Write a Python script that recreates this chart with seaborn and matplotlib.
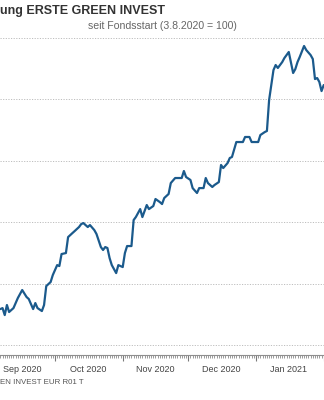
import matplotlib
matplotlib.use("Agg")
import matplotlib.pyplot as plt
import matplotlib.dates as mdates
import pandas as pd
import seaborn as sns

# ---- data ----
dates = [
    "2020-09-06", "2020-09-07", "2020-09-08", "2020-09-09", "2020-09-10", "2020-09-12",
    "2020-09-14", "2020-09-16", "2020-09-18", "2020-09-19", "2020-09-21", "2020-09-22",
    "2020-09-23", "2020-09-25", "2020-09-26", "2020-09-27", "2020-09-29", "2020-09-30",
    "2020-10-02", "2020-10-03", "2020-10-04", "2020-10-06", "2020-10-07", "2020-10-09",
    "2020-10-10", "2020-10-12", "2020-10-13", "2020-10-14", "2020-10-16", "2020-10-17",
    "2020-10-19", "2020-10-20", "2020-10-22", "2020-10-23", "2020-10-24", "2020-10-25",
    "2020-10-26", "2020-10-27", "2020-10-29", "2020-10-30",
    "2020-11-01", "2020-11-02", "2020-11-03", "2020-11-05", "2020-11-06", "2020-11-07",
    "2020-11-09", "2020-11-10", "2020-11-12", "2020-11-13", "2020-11-15", "2020-11-16",
    "2020-11-18", "2020-11-19", "2020-11-20", "2020-11-22", "2020-11-23", "2020-11-25",
    "2020-11-26", "2020-11-28", "2020-11-29", "2020-11-30",
    "2020-12-02", "2020-12-03", "2020-12-05", "2020-12-06", "2020-12-08", "2020-12-09",
    "2020-12-10", "2020-12-12", "2020-12-13", "2020-12-15", "2020-12-16", "2020-12-17",
    "2020-12-19", "2020-12-20", "2020-12-21", "2020-12-23", "2020-12-25", "2020-12-26",
    "2020-12-27", "2020-12-29", "2020-12-30",
    "2021-01-01", "2021-01-02", "2021-01-03", "2021-01-05", "2021-01-06", "2021-01-07",
    "2021-01-09", "2021-01-10", "2021-01-11", "2021-01-13", "2021-01-14", "2021-01-16",
    "2021-01-18", "2021-01-19", "2021-01-20", "2021-01-21", "2021-01-23", "2021-01-24",
    "2021-01-26", "2021-01-27", "2021-01-28", "2021-01-29", "2021-01-30", "2021-01-31",
    "2021-02-01",
]
values = [
    97.93, 98.01, 97.44, 98.26, 97.69, 98.01,
    98.83, 99.48, 98.91, 98.75, 97.93, 98.42,
    98.01, 97.77, 98.26, 99.80, 100.13, 100.70,
    101.51, 101.43, 102.41, 102.49, 103.79, 104.12,
    104.28, 104.61, 104.85, 104.93, 104.61, 104.77,
    104.36, 104.04, 102.98, 102.74, 102.98, 102.90,
    102.08, 101.51, 100.86, 101.51,
    101.35, 102.49, 103.06, 103.06, 105.18, 105.42,
    106.07, 105.42, 106.40, 106.07, 106.32, 106.89,
    106.64, 106.48, 106.97, 107.30, 108.19, 108.60,
    108.60, 108.60, 109.17, 108.68,
    108.44, 107.78, 107.38, 107.78, 107.78, 108.60,
    108.19, 107.87, 108.03, 108.27, 109.66, 109.41,
    109.82, 110.23, 110.31, 111.53, 111.53, 111.53,
    111.94, 111.94, 111.53,
    111.53, 111.53, 112.10, 112.34, 112.43, 114.95,
    117.39, 117.80, 117.56, 118.04, 118.37, 118.86,
    117.15, 117.47, 118.04, 118.45, 119.35, 119.02,
    118.61, 118.29, 116.66, 116.74, 116.42, 115.68,
    116.17,
]
grid_values = [95, 100, 105, 110, 115, 120]
month_starts = ["2020-09-01", "2020-10-01", "2020-11-01", "2020-12-01", "2021-01-01", "2021-02-01"]
month_mids = ["2020-09-16", "2020-10-16", "2020-11-16", "2020-12-16", "2021-01-16"]
month_labels = ["Sep 2020", "Oct 2020", "Nov 2020", "Dec 2020", "Jan 2021"]
title_text = "ung ERSTE GREEN INVEST"
subtitle_text = "seit Fondsstart (3.8.2020 = 100)"
footer_text = "EN INVEST EUR R01 T"

df = pd.DataFrame({"date": pd.to_datetime(dates), "value": values})

sns.set_style("white")
plt.rcParams["font.family"] = ["Liberation Sans", "DejaVu Sans"]

W, H = 324, 400
fig = plt.figure(figsize=(W / 100, H / 100), dpi=100)
ax = fig.add_axes([0, 1 - 355 / H, 1, (355 - 38) / H])

line_color = "#1b5a8c"
sns.lineplot(data=df, x="date", y="value", ax=ax, color=line_color,
             linewidth=1.6, legend=False)

for gv in grid_values:
    ax.axhline(gv, color="#bdbdbd", linewidth=0.7, linestyle=(0, (1.2, 1.5)), zorder=0)

for s in ["top", "right", "left"]:
    ax.spines[s].set_visible(False)
ax.spines["bottom"].set_color("#8f8f8f")
ax.spines["bottom"].set_linewidth(0.8)

ax.set_yticks([])
ax.set_xlabel("")
ax.set_ylabel("")

ax.set_xticks(pd.to_datetime(month_starts))
ax.set_xticklabels([])
ax.xaxis.set_minor_locator(mdates.DayLocator())
ax.tick_params(axis="x", which="major", bottom=True, length=4.5, width=0.8,
               color="#7a7a7a", direction="out")
ax.tick_params(axis="x", which="minor", bottom=True, length=2.4, width=0.6,
               color="#8a8a8a", direction="out")

sec = ax.secondary_xaxis("bottom")
sec.set_xticks(pd.to_datetime(month_mids))
sec.set_xticklabels(month_labels)
sec.tick_params(axis="x", length=0, pad=7, labelsize=6.5, labelcolor="#444444")
sec.spines["bottom"].set_visible(False)

ax.set_xlim(pd.Timestamp("2020-09-05 20:00"), pd.Timestamp("2021-02-01 03:00"))
ax.set_ylim(94.19, 120.0)

fig.text(0, 1 - 11 / H, title_text, ha="left", va="center", fontsize=9,
         fontweight="bold", color="#333333")
fig.text(162 / W, 1 - 26 / H, subtitle_text, ha="center", va="center",
         fontsize=7.6, color="#666666")
fig.text(0, 1 - 382 / H, footer_text, ha="left", va="center", fontsize=5.7,
         color="#555555")

fig.savefig("out.png", dpi=100)
